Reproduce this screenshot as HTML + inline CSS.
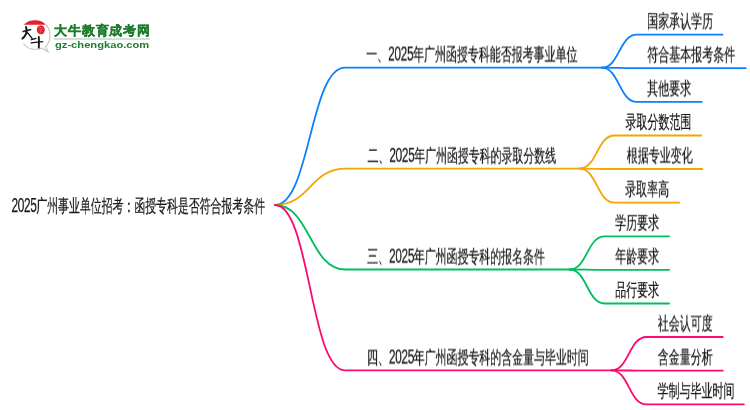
<!DOCTYPE html>
<html><head><meta charset="utf-8">
<style>
html,body{margin:0;padding:0;background:#fff;width:750px;height:410px;overflow:hidden}
body{position:relative;font-family:"Liberation Sans",sans-serif;color:#1a1a1a}
.t{position:absolute;left:0;top:0;white-space:nowrap;will-change:transform;font-weight:500;-webkit-text-stroke:0.25px #1a1a1a;font-size:18px;line-height:18px;transform-origin:0 0}
svg{position:absolute;left:0;top:0}
.d{font-size:19.7px;letter-spacing:-0.65px;line-height:0}
</style></head><body>
<svg id="br" width="750" height="410" viewBox="0 0 750 410" fill="none" stroke-width="1.8" stroke-linecap="round">
  <path stroke="#0a80ff" d="M275.0 205.0 C310.0 205.0 310.0 67.7 345 67.7 L601.8 67.7"/>
  <path stroke="#0a80ff" d="M601.8 67.7 C619.3 67.7 619.3 34.7 636.8 34.7 L722.5 34.7"/>
  <path stroke="#0a80ff" d="M601.8 67.7 C619.3 67.7 619.3 68.1 636.8 68.1 L745.8 68.1"/>
  <path stroke="#0a80ff" d="M601.8 67.7 C619.3 67.7 619.3 101.9 636.8 101.9 L701.7 101.9"/>
  <path stroke="#f3a500" d="M275.0 205.0 C310.2 205.0 310.2 168.6 345.5 168.6 L579.5 168.6"/>
  <path stroke="#f3a500" d="M579.5 168.6 C597.0 168.6 597.0 135.5 614.5 135.5 L701.2 135.5"/>
  <path stroke="#f3a500" d="M579.5 168.6 C597.0 168.6 597.0 169.0 614.5 169.0 L702.3 169.0"/>
  <path stroke="#f3a500" d="M579.5 168.6 C597.0 168.6 597.0 202.7 614.5 202.7 L679.1 202.7"/>
  <path stroke="#00be5e" d="M275.0 205.0 C310.0 205.0 310.0 269.5 345 269.5 L569.6 269.5"/>
  <path stroke="#00be5e" d="M569.6 269.5 C587.1 269.5 587.1 236.3 604.6 236.3 L669.1 236.3"/>
  <path stroke="#00be5e" d="M569.6 269.5 C587.1 269.5 587.1 269.9 604.6 269.9 L669.1 269.9"/>
  <path stroke="#00be5e" d="M569.6 269.5 C587.1 269.5 587.1 303.5 604.6 303.5 L669.1 303.5"/>
  <path stroke="#ff0872" d="M275.0 205.0 C310.0 205.0 310.0 370.3 345 370.3 L611.5 370.3"/>
  <path stroke="#ff0872" d="M611.5 370.3 C629.0 370.3 629.0 337.0 646.5 337.0 L722.8 337.0"/>
  <path stroke="#ff0872" d="M611.5 370.3 C629.0 370.3 629.0 370.7 646.5 370.7 L722.8 370.7"/>
  <path stroke="#ff0872" d="M611.5 370.3 C629.0 370.3 629.0 404.4 646.5 404.4 L743.8 404.4"/>
</svg>


<!-- logo -->
<svg width="60" height="60" viewBox="0 0 60 60" style="left:0;top:0">
  <path d="M23.5 43.5 C26 47.5 30 49.3 35 49.3 C37.5 49.3 40 48.8 42 48 L48 51.8 L45.6 46.8 C48.5 43.5 50 39.5 50 35 C50 30.5 48.3 27.3 46 25" fill="none" stroke="#c4c4c4" stroke-width="1.1"/>
  
  <path d="M23.8 24.8 C26.5 21.6 30.5 20.2 35 20.2 C39.5 20.2 43.3 21.6 45.8 24.8 Z" fill="#e3232b"/>
  <g stroke="#151515" stroke-linecap="round" fill="none">
    <path d="M23.2 31.5 C25.6 31 28 30.3 30.6 29.7" stroke-width="1.5"/>
    <path d="M26 27 C26.9 29.5 26.9 32.5 25.6 34.8 C24.8 36.3 23.7 37.7 22.4 38.6" stroke-width="1.9"/>
    <path d="M27.5 32.8 C29.2 34.6 30.8 36.8 32.2 38.6" stroke-width="1.4"/>
    <path d="M31.2 39.8 C32.8 39.2 34.4 38.7 36 38.3" stroke-width="1.2"/>
    <path d="M31.2 42.9 C35 42.4 39 41.9 42.7 41.6" stroke-width="1.4"/>
    <path d="M38.8 37 C39 40.5 39 44 38.8 47.6" stroke-width="1.9"/>
  </g>
  <path transform="translate(-1,0)" d="M38.2 27.6 C38.8 26 40.5 25.2 42 25.5 C43.8 25.2 45.2 26.5 45.5 28.3 C46 30 45.6 32.2 44.6 33.4 C43.2 34.4 41 34.4 39.6 33.6 C38.3 32.6 37.7 30.8 37.9 29.3 Z" fill="#e01e26"/>
  <path transform="translate(-1,0)" d="M39.6 27.8 C40.5 27.2 41.5 27.5 42 28.2 M42.8 27.4 L43.6 28.6 M40.2 30 C41 29.6 42.2 29.8 43 30.4 M41.4 31.2 L41 32.6 M43.4 31.6 L44 32.4" stroke="#f6c7c7" stroke-width="0.55" fill="none"/>
</svg>
<div style="position:absolute;left:54.2px;top:23.5px;font-size:12.6px;line-height:14px;font-weight:900;color:#1d7b2c;white-space:nowrap;letter-spacing:0.85px;-webkit-text-stroke:0.3px #1d7b2c;will-change:transform">大牛教育成考网</div>
<div style="position:absolute;left:54px;top:38px;width:96px;height:1.5px;background:#d3e2d8"></div>
<div style="position:absolute;left:54.5px;top:39.6px;font-size:9.6px;line-height:10px;font-weight:bold;color:#1d7b2c;white-space:nowrap;transform-origin:0 0;transform:scaleX(1.163);will-change:transform">gz-chengkao.com</div>

<!-- texts -->
<div class="t" style="transform:translate(11.50px,197.00px) scaleX(0.6052)"><span class="d">2025</span>广州事业单位招考：函授专科是否符合报考条件</div>
<div class="t" style="transform:translate(366.20px,45.50px) scaleX(0.6088)">一、<span class="d">2025</span>年广州函授专科能否报考事业单位</div>
<div class="t" style="transform:translate(367.50px,146.80px) scaleX(0.6065)">二、<span class="d">2025</span>年广州函授专科的录取分数线</div>
<div class="t" style="transform:translate(367.20px,247.60px) scaleX(0.6062)">三、<span class="d">2025</span>年广州函授专科的报名条件</div>
<div class="t" style="transform:translate(367.00px,348.50px) scaleX(0.6074)">四、<span class="d">2025</span>年广州函授专科的含金量与毕业时间</div>
<div class="t" style="transform:translate(647.20px,12.30px) scaleX(0.61)">国家承认学历</div>
<div class="t" style="transform:translate(647.30px,45.60px) scaleX(0.61)">符合基本报考条件</div>
<div class="t" style="transform:translate(647.20px,79.50px) scaleX(0.61)">其他要求</div>
<div class="t" style="transform:translate(625.50px,113.00px) scaleX(0.61)">录取分数范围</div>
<div class="t" style="transform:translate(626.80px,146.50px) scaleX(0.61)">根据专业变化</div>
<div class="t" style="transform:translate(625.20px,180.20px) scaleX(0.61)">录取率高</div>
<div class="t" style="transform:translate(615.20px,213.80px) scaleX(0.61)">学历要求</div>
<div class="t" style="transform:translate(615.20px,247.40px) scaleX(0.61)">年龄要求</div>
<div class="t" style="transform:translate(615.20px,281.00px) scaleX(0.61)">品行要求</div>
<div class="t" style="transform:translate(657.80px,314.50px) scaleX(0.61)">社会认可度</div>
<div class="t" style="transform:translate(657.80px,348.20px) scaleX(0.61)">含金量分析</div>
<div class="t" style="transform:translate(657.60px,381.90px) scaleX(0.61)">学制与毕业时间</div>
<!-- /texts -->
</body></html>
